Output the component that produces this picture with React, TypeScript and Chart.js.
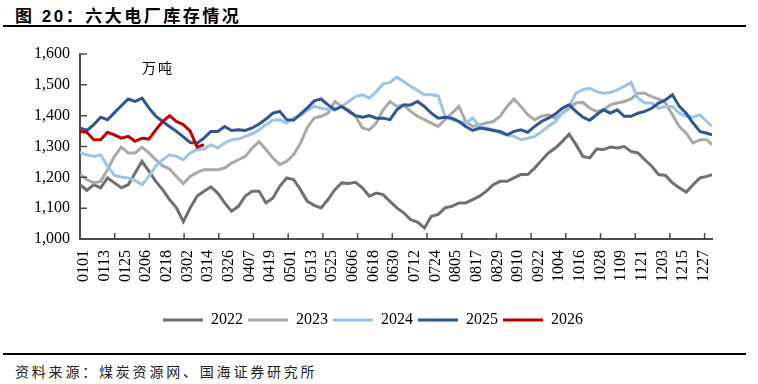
import React, { useEffect, useRef } from 'react';
import { Chart, registerables } from 'chart.js';

Chart.register(...registerables);

// x-axis labels (every 12 days)
const X_LABELS = [
  '0101', '0113', '0125', '0206', '0218', '0302', '0314', '0326', '0407', '0419',
  '0501', '0513', '0525', '0606', '0618', '0630', '0712', '0724', '0805', '0817',
  '0829', '0910', '0922', '1004', '1016', '1028', '1109', '1121', '1203', '1215', '1227',
];
const LABEL_STEP_DAYS = 12;
const TICK_STEP_DAYS = 20.15;
const X_MAX_DAY = 367;

// sample days (day-of-year index, 0 = Jan 1), one value per sample
const SAMPLE_DAYS = [
  0, 4, 8, 12, 16, 20, 24, 28, 32, 36, 40, 44, 48, 52, 56, 60, 64, 68, 72, 76,
  80, 84, 88, 92, 96, 100, 104, 108, 112, 116, 120, 124, 128, 132, 136, 140, 144, 148, 152, 156,
  160, 164, 168, 172, 176, 180, 184, 188, 192, 196, 200, 204, 208, 212, 216, 220, 224, 228, 232, 236,
  240, 244, 248, 252, 256, 260, 264, 268, 272, 276, 280, 284, 288, 292, 296, 300, 304, 308, 312, 316,
  320, 324, 328, 332, 336, 340, 344, 348, 352, 356, 360, 364, 367,
];

const SERIES_NAMES = ['2022', '2023', '2024', '2025', '2026'];

const V2022 = [
  1176, 1158, 1176, 1166, 1198, 1182, 1166, 1176, 1214, 1252, 1220, 1187, 1160, 1128, 1101, 1056, 1101, 1139, 1155, 1169,
  1149, 1117, 1090, 1106, 1139, 1155, 1155, 1117, 1133, 1171, 1198, 1193, 1160, 1122, 1109, 1101, 1128, 1160, 1182, 1180,
  1184, 1166, 1139, 1149, 1144, 1122, 1101, 1085, 1063, 1055, 1036, 1074, 1080, 1101, 1106, 1117, 1117, 1128, 1139, 1155,
  1176, 1187, 1187, 1198, 1209, 1209, 1230, 1255, 1279, 1295, 1316, 1340, 1306, 1268, 1263, 1292, 1290, 1298, 1295, 1300,
  1284, 1279, 1257, 1236, 1209, 1206, 1182, 1166, 1152, 1176, 1198, 1203, 1209,
];
const V2023 = [
  1209, 1193, 1182, 1187, 1225, 1268, 1298, 1279, 1279, 1298, 1279, 1257, 1238, 1227, 1203, 1180, 1203, 1216, 1225, 1225,
  1225, 1230, 1246, 1257, 1268, 1295, 1316, 1290, 1263, 1241, 1252, 1273, 1310, 1362, 1392, 1398, 1408, 1446, 1430, 1419,
  1398, 1360, 1354, 1376, 1419, 1446, 1430, 1435, 1414, 1398, 1387, 1376, 1365, 1387, 1408, 1430, 1381, 1365, 1371, 1376,
  1381, 1398, 1430, 1454, 1430, 1403, 1387, 1398, 1403, 1392, 1408, 1424, 1441, 1443, 1424, 1414, 1419, 1435, 1441, 1446,
  1454, 1473, 1473, 1462, 1454, 1441, 1403, 1365, 1343, 1311, 1322, 1322, 1306,
];
const V2024 = [
  1281, 1273, 1268, 1273, 1236, 1206, 1201, 1198, 1190, 1176, 1203, 1236, 1257, 1273, 1268, 1257, 1279, 1290, 1292, 1306,
  1295, 1311, 1322, 1324, 1333, 1341, 1354, 1371, 1385, 1387, 1376, 1392, 1400, 1417, 1430, 1424, 1421, 1421, 1430, 1446,
  1462, 1468, 1457, 1478, 1503, 1508, 1525, 1511, 1495, 1482, 1468, 1468, 1464, 1398, 1387, 1381, 1376, 1392, 1365, 1360,
  1354, 1343, 1338, 1333, 1322, 1327, 1333, 1348, 1365, 1381, 1408, 1430, 1473, 1484, 1489, 1478, 1473, 1475, 1484, 1495,
  1508, 1457, 1441, 1441, 1424, 1430, 1430, 1408, 1398, 1395, 1403, 1381, 1365,
];
const V2025 = [
  1360, 1352, 1371, 1395, 1387, 1410, 1432, 1454, 1446, 1457, 1425, 1398, 1381, 1365, 1349, 1331, 1313, 1311, 1327, 1349,
  1349, 1365, 1352, 1354, 1352, 1360, 1373, 1389, 1408, 1414, 1387, 1385, 1405, 1425, 1448, 1454, 1435, 1419, 1430, 1414,
  1400, 1395, 1400, 1392, 1392, 1387, 1419, 1435, 1435, 1446, 1430, 1408, 1392, 1395, 1392, 1381, 1365, 1352, 1360, 1357,
  1352, 1349, 1338, 1349, 1354, 1346, 1365, 1381, 1392, 1405, 1424, 1435, 1414, 1395, 1385, 1403, 1419, 1408, 1419, 1398,
  1398, 1408, 1414, 1424, 1441, 1451, 1468, 1430, 1408, 1376, 1349, 1343, 1338,
];
const V2026 = [
  1349, 1346, 1322, 1322, 1346, 1338, 1327, 1333, 1317, 1327, 1324, 1354, 1381, 1400, 1381, 1371, 1350, 1298, 1306,
];

const SERIES_VALUES = [V2022, V2023, V2024, V2025, V2026];
const SERIES_COLORS = ['#707070', '#A9A9A9', '#9DC3E6', '#2F5597', '#C00000'];

const AXIS_COLOR = '#4D4D4D';
const FONT_FAMILY = '"Liberation Serif", "Times New Roman", serif';

const tickMarksPlugin = {
  id: 'tickMarks',
  afterDraw(chart: any) {
    const { ctx, scales } = chart;
    const x = scales.x;
    const y = scales.y;
    ctx.save();
    ctx.strokeStyle = AXIS_COLOR;
    ctx.lineWidth = 1.5;
    ctx.beginPath();
    for (let k = 0; k * TICK_STEP_DAYS <= X_MAX_DAY; k++) {
      const px = x.getPixelForValue(k * TICK_STEP_DAYS);
      ctx.moveTo(px, y.bottom);
      ctx.lineTo(px, y.bottom - 6);
    }
    for (let v = y.min; v <= y.max; v += 100) {
      const py = y.getPixelForValue(v);
      ctx.moveTo(x.left, py);
      ctx.lineTo(x.left + 7, py);
    }
    ctx.stroke();
    ctx.restore();
  },
};

function ChartView() {
  const ref = useRef<HTMLCanvasElement | null>(null);
  useEffect(() => {
    if (!ref.current) return;
    const datasets = SERIES_NAMES.map((name, i) => ({
      label: name,
      data: SERIES_VALUES[i].map((v, j) => ({ x: SAMPLE_DAYS[j], y: v })),
      borderColor: SERIES_COLORS[i],
      backgroundColor: SERIES_COLORS[i],
      borderWidth: 3,
      pointRadius: 0,
      tension: 0,
      fill: false,
      order: SERIES_NAMES.length - i,
    }));
    const chart = new Chart(ref.current, {
      type: 'line',
      data: { datasets },
      plugins: [tickMarksPlugin],
      options: {
        animation: false,
        responsive: false,
        maintainAspectRatio: false,
        layout: { padding: { left: 34, right: 46, top: 24, bottom: 12 } },
        scales: {
          x: {
            type: 'linear',
            min: 0,
            max: X_MAX_DAY,
            grid: { display: false, drawTicks: false },
            border: { display: true, color: AXIS_COLOR, width: 2 },
            afterBuildTicks: (axis: any) => {
              axis.ticks = X_LABELS.map((_, i) => ({ value: i * LABEL_STEP_DAYS }));
            },
            afterFit: (axis: any) => {
              axis.height = 68;
            },
            ticks: {
              autoSkip: false,
              minRotation: 90,
              maxRotation: 90,
              padding: 11,
              labelOffset: 4,
              color: '#000',
              font: { family: FONT_FAMILY, size: 16 },
              callback: (v: any) => X_LABELS[Math.round(Number(v) / LABEL_STEP_DAYS)],
            },
          },
          y: {
            min: 1000,
            max: 1600,
            grid: { display: false, drawTicks: false },
            border: { display: true, color: AXIS_COLOR, width: 2 },
            afterFit: (axis: any) => {
              axis.width = 46;
            },
            ticks: {
              stepSize: 100,
              padding: 10,
              color: '#000',
              font: { family: FONT_FAMILY, size: 16 },
              callback: (v: any) => Number(v).toLocaleString('en-US'),
            },
          },
        },
        plugins: {
          legend: {
            position: 'bottom',
            labels: {
              usePointStyle: true,
              pointStyle: 'line',
              pointStyleWidth: 40,
              padding: 5,
              color: '#000',
              font: { family: FONT_FAMILY, size: 16 },
              sort: (a: any, b: any) => a.datasetIndex - b.datasetIndex,
            },
          },
          tooltip: { enabled: false },
          title: { display: false },
        },
      },
    } as any);
    return () => chart.destroy();
  }, []);
  return <canvas ref={ref} width={758} height={320} style={{ display: 'block', width: 758, height: 320 }} />;
}

export default function App() {
  return (
    <div style={{ position: 'absolute', left: 0, top: 0, width: 758, height: 384, background: '#fff', overflow: 'hidden' }}>
      <div
        style={{
          position: 'absolute', left: 15, top: 2, fontSize: 17, fontWeight: 700, letterSpacing: 2.5,
          fontFamily: '"Liberation Sans", "Noto Sans CJK SC", sans-serif', color: '#000', whiteSpace: 'nowrap',
        }}
      >
        图 20：六大电厂库存情况
      </div>
      <div style={{ position: 'absolute', left: 3, top: 25, width: 743, height: 1.5, background: '#000' }} />
      <div style={{ position: 'absolute', left: 0, top: 30, width: 758, height: 320 }}>
        <ChartView />
      </div>
      <div
        style={{
          position: 'absolute', left: 142, top: 57, fontSize: 14, letterSpacing: 2,
          fontFamily: '"Noto Sans CJK SC", sans-serif', color: '#000', whiteSpace: 'nowrap',
        }}
      >
        万吨
      </div>
      <div style={{ position: 'absolute', left: 3, top: 353, width: 743, height: 1.5, background: '#000' }} />
      <div
        style={{
          position: 'absolute', left: 15, top: 361, fontSize: 14, letterSpacing: 2.8,
          fontFamily: '"Noto Sans CJK SC", sans-serif', color: '#222', whiteSpace: 'nowrap',
        }}
      >
        资料来源：煤炭资源网、国海证券研究所
      </div>
    </div>
  );
}
